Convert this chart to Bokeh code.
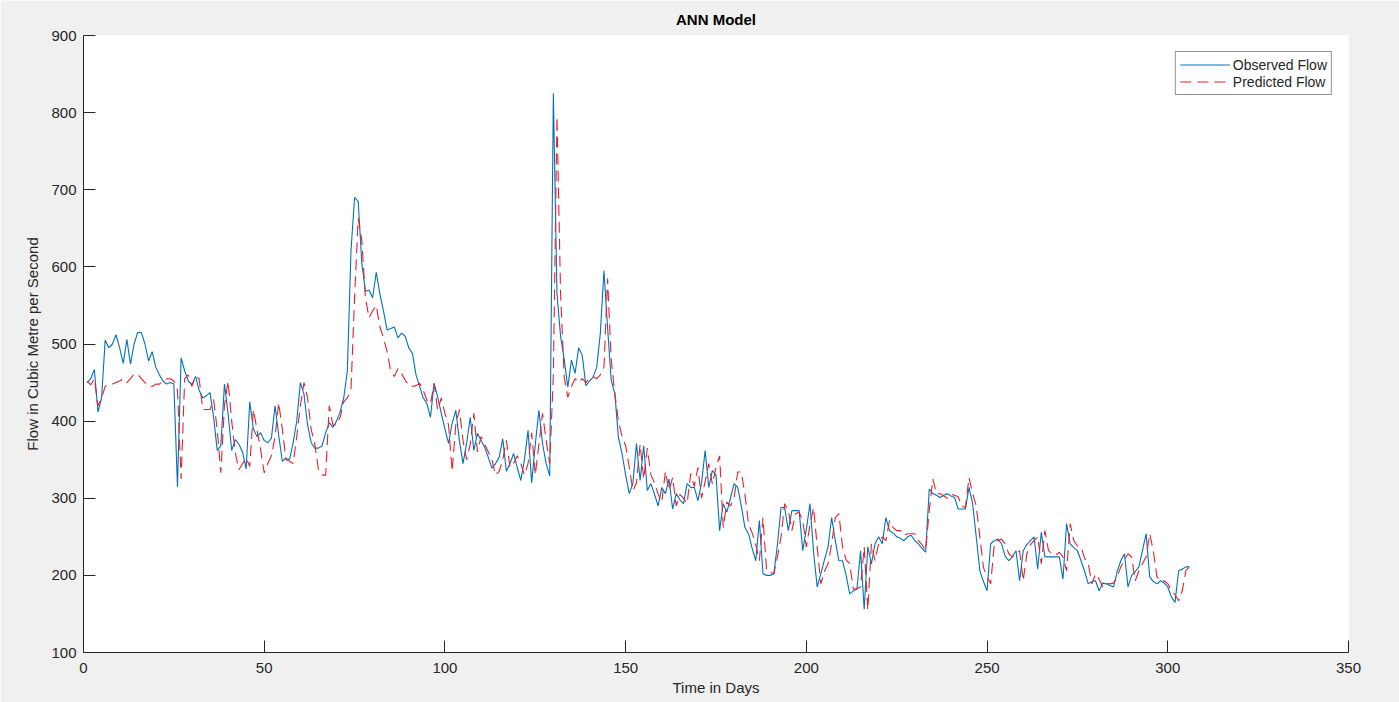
from bokeh.plotting import figure
from bokeh.models import FixedTicker, Range1d, Legend, LegendItem
from bokeh.embed import file_html
from bokeh.resources import INLINE

# ---- data ----
days = list(range(1, 307))

observed = [
    450, 455, 467, 412, 430, 505, 495, 500, 512, 495,
    475, 506, 474, 500, 515, 515, 500, 478, 490, 470,
    460, 452, 448, 450, 448, 315, 482, 465, 452, 447,
    458, 440, 430, 433, 437, 405, 362, 368, 448, 410,
    362, 376, 370, 360, 338, 425, 390, 380, 385, 375,
    372, 378, 420, 382, 348, 352, 350, 372, 400, 450,
    435, 395, 372, 365, 365, 368, 385, 398, 392, 400,
    412, 430, 465, 620, 690, 685, 605, 568, 570, 560,
    593, 565, 543, 518, 520, 522, 508, 514, 510, 495,
    488, 460, 445, 430, 423, 405, 449, 431, 410, 390,
    371, 397, 414, 375, 345, 371, 405, 362, 384, 375,
    366, 353, 339, 345, 353, 377, 335, 345, 358, 340,
    323, 350, 388, 320, 370, 414, 371, 345, 329, 825,
    565, 510, 480, 444, 479, 462, 495, 485, 446, 452,
    457, 470, 514, 595, 521, 453, 436, 379, 358, 330,
    306, 319, 371, 323, 368, 310, 319, 305, 290, 314,
    306, 325, 286, 306, 298, 293, 319, 314, 314, 297,
    320, 362, 314, 336, 330, 258, 293, 282, 300, 319,
    314, 290, 262, 254, 235, 219, 271, 202, 200, 200,
    202, 240, 288, 288, 258, 284, 284, 284, 232, 260,
    293, 230, 185, 202, 220, 237, 275, 245, 219, 219,
    200, 176, 180, 182, 232, 156, 237, 215, 241, 250,
    241, 275, 258, 255, 250, 248, 245, 250, 252, 245,
    241, 235, 230, 312, 306, 304, 301, 304, 306, 303,
    301, 286, 286, 286, 314, 293, 250, 206, 192, 180,
    241, 245, 247, 241, 225, 219, 224, 232, 193, 232,
    240, 245, 250, 208, 256, 224, 224, 224, 224, 224,
    195, 267, 241, 236, 232, 219, 205, 189, 192, 193,
    180, 190, 189, 187, 185, 205, 219, 228, 185, 200,
    205, 211, 232, 254, 198, 192, 189, 193, 190, 185,
    172, 165, 206, 208, 211, 211,
]

predicted = [
    452, 447, 455, 420, 430, 445, 448, 448, 450, 452,
    455, 450, 455, 461, 461, 455, 450, 446, 445, 448,
    448, 452, 455, 455, 452, 440, 325, 455, 460, 445,
    458, 455, 415, 415, 415, 428, 389, 333, 420, 452,
    400, 359, 337, 345, 352, 341, 415, 389, 363, 333,
    345, 355, 380, 424, 390, 350, 348, 345, 380, 420,
    450, 430, 389, 370, 337, 330, 330, 420, 395, 395,
    405, 425, 430, 440, 560, 663, 635, 560, 534, 543,
    550, 522, 508, 490, 465, 458, 468, 462, 453, 447,
    445, 446, 449, 440, 427, 422, 449, 414, 430, 410,
    395, 335, 395, 415, 375, 350, 370, 410, 360, 380,
    370, 360, 350, 330, 335, 350, 375, 340, 345, 355,
    345, 330, 345, 385, 330, 370, 410, 375, 345, 460,
    795, 565, 457, 431, 445, 455, 450, 455, 450, 455,
    458, 455, 460, 470, 585, 480, 436, 400, 380, 368,
    340, 310, 320, 370, 325, 365, 330, 320, 305, 295,
    335, 310, 327, 290, 305, 300, 293, 332, 315, 340,
    300, 322, 345, 318, 340, 355, 262, 295, 290, 300,
    334, 334, 305, 267, 255, 240, 219, 275, 206, 204,
    202, 224, 250, 293, 284, 258, 280, 282, 271, 237,
    265, 288, 237, 189, 205, 215, 241, 275, 280, 237,
    220, 215, 182, 183, 185, 237, 155, 241, 219, 241,
    250, 245, 271, 262, 258, 258, 252, 254, 254, 254,
    245, 240, 232, 284, 325, 306, 306, 303, 300, 305,
    304, 302, 290, 288, 327, 306, 290, 250, 210, 198,
    189, 241, 245, 247, 241, 228, 224, 228, 232, 193,
    228, 240, 245, 250, 215, 258, 232, 228, 226, 230,
    224, 206, 267, 245, 238, 237, 222, 215, 189, 202,
    195, 185, 190, 189, 190, 198, 211, 220, 228, 224,
    193, 206, 215, 224, 254, 232, 198, 192, 193, 189,
    180, 175, 167, 180, 206, 211,
]

x_ticks = [0, 50, 100, 150, 200, 250, 300, 350]
y_ticks = [100, 200, 300, 400, 500, 600, 700, 800, 900]

FONT = "Liberation Sans"
AXIS_COL = "#262626"

p = figure(
    width=1399, height=702,
    x_range=Range1d(0, 350), y_range=Range1d(100, 900),
    output_backend="svg", toolbar_location=None,
    title="ANN Model",
    min_border_left=83, min_border_right=51,
    min_border_top=35, min_border_bottom=50,
)

p.border_fill_color = "#f0f0f0"
p.background_fill_color = "white"
p.outline_line_color = None
p.xgrid.visible = False
p.ygrid.visible = False

p.title.align = "center"
p.title.text_font = FONT
p.title.text_font_size = "15px"
p.title.text_font_style = "bold"
p.title.text_color = "#000000"
p.title.standoff = 16

for ax, ticks in ((p.xaxis, x_ticks), (p.yaxis, y_ticks)):
    ax.ticker = FixedTicker(ticks=ticks)
    ax.major_tick_in = 12
    ax.major_tick_out = 0
    ax.minor_tick_in = 0
    ax.minor_tick_out = 0
    ax.axis_line_color = AXIS_COL
    ax.major_tick_line_color = AXIS_COL
    ax.major_label_text_color = AXIS_COL
    ax.major_label_text_font = FONT
    ax.major_label_text_font_size = "15px"
    ax.axis_label_text_font = FONT
    ax.axis_label_text_font_size = "15px"
    ax.axis_label_text_font_style = "normal"
    ax.axis_label_text_color = AXIS_COL

p.xaxis.axis_label = "Time in Days"
p.yaxis.axis_label = "Flow in Cubic Metre per Second"
p.xaxis.major_label_standoff = 10
p.xaxis.axis_label_standoff = 3
p.yaxis.major_label_standoff = 7
p.yaxis.axis_label_standoff = 7

r_obs = p.line(days, observed, line_color="#0072BD", line_width=1.1)
r_pred = p.line(days, predicted, line_color="#e8202a", line_width=1.1, line_dash="11 6")

legend = Legend(
    items=[LegendItem(label="Observed Flow", renderers=[r_obs]),
           LegendItem(label="Predicted Flow", renderers=[r_pred])],
    location="top_right",
    margin=16, padding=4, spacing=0,
    glyph_width=50, glyph_height=17, label_height=17, label_standoff=3,
    label_text_font=FONT, label_text_font_size="14px", label_text_color="#262626",
    border_line_color="#262626", border_line_width=1,
    background_fill_color="white", background_fill_alpha=1.0,
)
p.add_layout(legend)

open("out.html", "w").write(file_html(p, INLINE))
